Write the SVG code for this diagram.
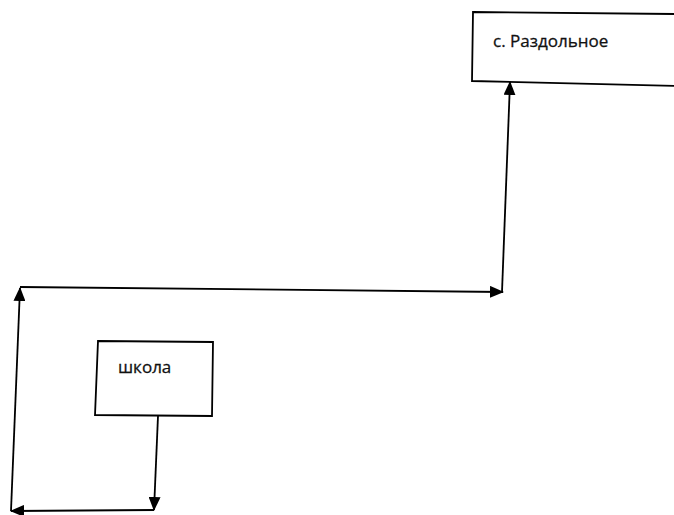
<svg xmlns="http://www.w3.org/2000/svg" width="674" height="515" viewBox="0 0 674 515">
<style>
.box{fill:#fff;stroke:#000;stroke-width:1.8}
.lbl{font-family:"Open Sans","Liberation Sans",sans-serif;font-size:17px;fill:#111;stroke:#111;stroke-width:0.3}
.con{stroke:#000;stroke-width:1.8;fill:none;marker-end:url(#ah)}
</style>
<defs>
<marker id="ah" markerWidth="14" markerHeight="12" refX="13" refY="6" orient="auto" markerUnits="userSpaceOnUse">
<path d="M0,0 L14,6 L0,12 Z" fill="#000"/>
</marker>
</defs>
<rect width="674" height="515" fill="#fff"/>
<g id="node-razdolnoe">
<path class="box" d="M473,12 L676,14 L676,86 L472,81 Z"/>
<text class="lbl" x="493" y="47">с. Раздольное</text>
</g>
<g id="node-shkola">
<path class="box" d="M98,341 L213,342 L212,416 L95,415 Z"/>
<text class="lbl" x="118" y="373">школа</text>
</g>
<g id="connectors">
<line class="con" x1="158" y1="416" x2="154" y2="510"/>
<line class="con" x1="154" y1="510" x2="11" y2="511"/>
<line class="con" x1="11" y1="511" x2="20" y2="288"/>
<line class="con" x1="20" y1="287" x2="503" y2="292"/>
<line class="con" x1="502" y1="292" x2="510" y2="82"/>
</g>
</svg>
